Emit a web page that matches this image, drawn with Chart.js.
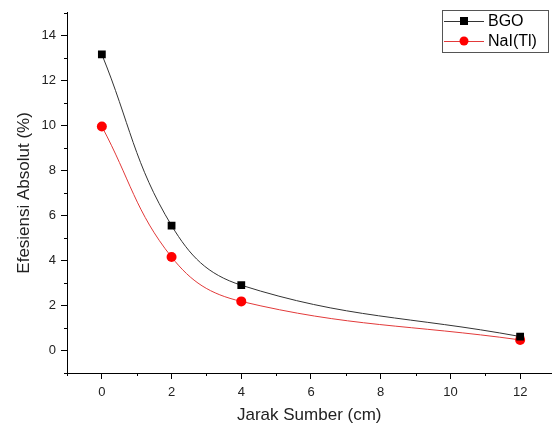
<!DOCTYPE html>
<html>
<head>
<meta charset="utf-8">
<script src="https://cdn.jsdelivr.net/npm/chart.js@4.4.1/dist/chart.umd.min.js"></script>
<style>
    html, body { margin: 0; padding: 0; background: #fff; }
    canvas { display: block; }
</style>
</head>
<body>
<canvas id="chart" width="557" height="430"></canvas>
<script>
    // Values.
    const distances = [0, 2, 4, 12];
    const bgoValues = [13.15, 5.55, 2.9, 0.62];
    const naiValues = [9.95, 4.15, 2.18, 0.47];
    const seriesLabels = ['BGO', 'NaI(Tl)'];
    const xTickValues = [0, 2, 4, 6, 8, 10, 12];
    const yTickValues = [0, 2, 4, 6, 8, 10, 12, 14];
    const xMinorTicks = [-1, 1, 3, 5, 7, 9, 11];
    const yMinorTicks = [-1, 1, 3, 5, 7, 9, 11, 13, 15];

    const FONT = 'Liberation Sans, Arial, sans-serif';

    function toPoints(xs, ys) {
        return xs.map(function (x, i) {
            return { x: x, y: ys[i] };
        });
    }

    // Short outward ticks at the odd values, like the Origin-style minor ticks.
    const minorTicks = {
        id: 'minorTicks',
        afterDraw: function (chart) {
            const ctx = chart.ctx;
            const xs = chart.scales.x;
            const ys = chart.scales.y;
            const area = chart.chartArea;
            ctx.save();
            ctx.strokeStyle = '#000';
            ctx.lineWidth = 1;
            ctx.beginPath();
            xMinorTicks.forEach(function (v) {
                const px = Math.round(xs.getPixelForValue(v)) + 0.5;
                ctx.moveTo(px, area.bottom);
                ctx.lineTo(px, area.bottom + 3);
            });
            yMinorTicks.forEach(function (v) {
                const py = Math.round(ys.getPixelForValue(v)) + 0.5;
                ctx.moveTo(area.left, py);
                ctx.lineTo(area.left - 3, py);
            });
            ctx.stroke();
            ctx.restore();
        },
    };

    // Boxed legend sitting inside the plot at the top right.
    const boxLegend = {
        id: 'boxLegend',
        afterDraw: function (chart) {
            const ctx = chart.ctx;
            const left = 442, top = 10, width = 106, height = 42;
            ctx.save();
            ctx.strokeStyle = '#555';
            ctx.lineWidth = 1;
            ctx.strokeRect(left + 0.5, top + 0.5, width, height);
            ctx.font = '16px ' + FONT;
            ctx.textBaseline = 'middle';
            chart.data.datasets.forEach(function (ds, i) {
                const y = top + 11 + i * 20;
                ctx.strokeStyle = ds.borderColor;
                ctx.lineWidth = 1;
                ctx.beginPath();
                ctx.moveTo(left + 2, y + 0.5);
                ctx.lineTo(left + 42, y + 0.5);
                ctx.stroke();
                ctx.fillStyle = ds.pointBackgroundColor;
                if (ds.pointStyle === 'rect') {
                    ctx.fillRect(left + 18, y - 4, 8, 8);
                } else {
                    ctx.beginPath();
                    ctx.arc(left + 22, y, 4.5, 0, Math.PI * 2);
                    ctx.fill();
                }
                ctx.fillStyle = '#000';
                ctx.fillText(ds.label, left + 46, y + 1);
            });
            ctx.restore();
        },
    };

    new Chart(document.getElementById('chart'), {
        type: 'scatter',
        data: {
            datasets: [
                {
                    label: seriesLabels[0],
                    data: toPoints(distances, bgoValues),
                    showLine: true,
                    tension: 0.4,
                    borderColor: '#333',
                    borderWidth: 1,
                    pointStyle: 'rect',
                    pointRadius: 5.5,
                    pointBackgroundColor: '#000',
                    pointBorderColor: '#000',
                    pointBorderWidth: 0,
                },
                {
                    label: seriesLabels[1],
                    data: toPoints(distances, naiValues),
                    showLine: true,
                    tension: 0.4,
                    borderColor: '#e23a3a',
                    borderWidth: 1,
                    pointStyle: 'circle',
                    pointRadius: 5,
                    pointBackgroundColor: '#f00',
                    pointBorderColor: '#f00',
                    pointBorderWidth: 0,
                },
            ],
        },
        options: {
            responsive: false,
            animation: false,
            layout: { padding: { top: 8, right: 0, left: 10, bottom: 0 } },
            plugins: {
                legend: { display: false },
                tooltip: { enabled: false },
            },
            scales: {
                x: {
                    type: 'linear',
                    min: -1,
                    max: 12.9,
                    afterBuildTicks: function (scale) {
                        scale.ticks = xTickValues.map(function (v) { return { value: v }; });
                    },
                    afterFit: function (scale) {
                        scale.height = 57;
                    },
                    grid: { drawOnChartArea: false, tickLength: 6, color: '#000' },
                    border: { display: true, color: '#000', width: 1 },
                    ticks: { color: '#222', font: { family: FONT, size: 13 }, padding: 6, maxRotation: 0 },
                    title: {
                        display: true,
                        text: 'Jarak Sumber (cm)',
                        color: '#222',
                        font: { family: FONT, size: 17 },
                        padding: { top: 4 },
                    },
                },
                y: {
                    type: 'linear',
                    min: -1,
                    max: 15,
                    afterBuildTicks: function (scale) {
                        scale.ticks = yTickValues.map(function (v) { return { value: v }; });
                    },
                    afterFit: function (scale) {
                        scale.width = 57;
                    },
                    grid: { drawOnChartArea: false, tickLength: 6, color: '#000' },
                    border: { display: true, color: '#000', width: 1 },
                    ticks: { color: '#222', font: { family: FONT, size: 13 }, padding: 5 },
                    title: {
                        display: true,
                        text: 'Efesiensi Absolut (%)',
                        color: '#222',
                        font: { family: FONT, size: 17 },
                        padding: { bottom: 2 },
                    },
                },
            },
        },
        plugins: [minorTicks, boxLegend],
    });
</script>
</body>
</html>
